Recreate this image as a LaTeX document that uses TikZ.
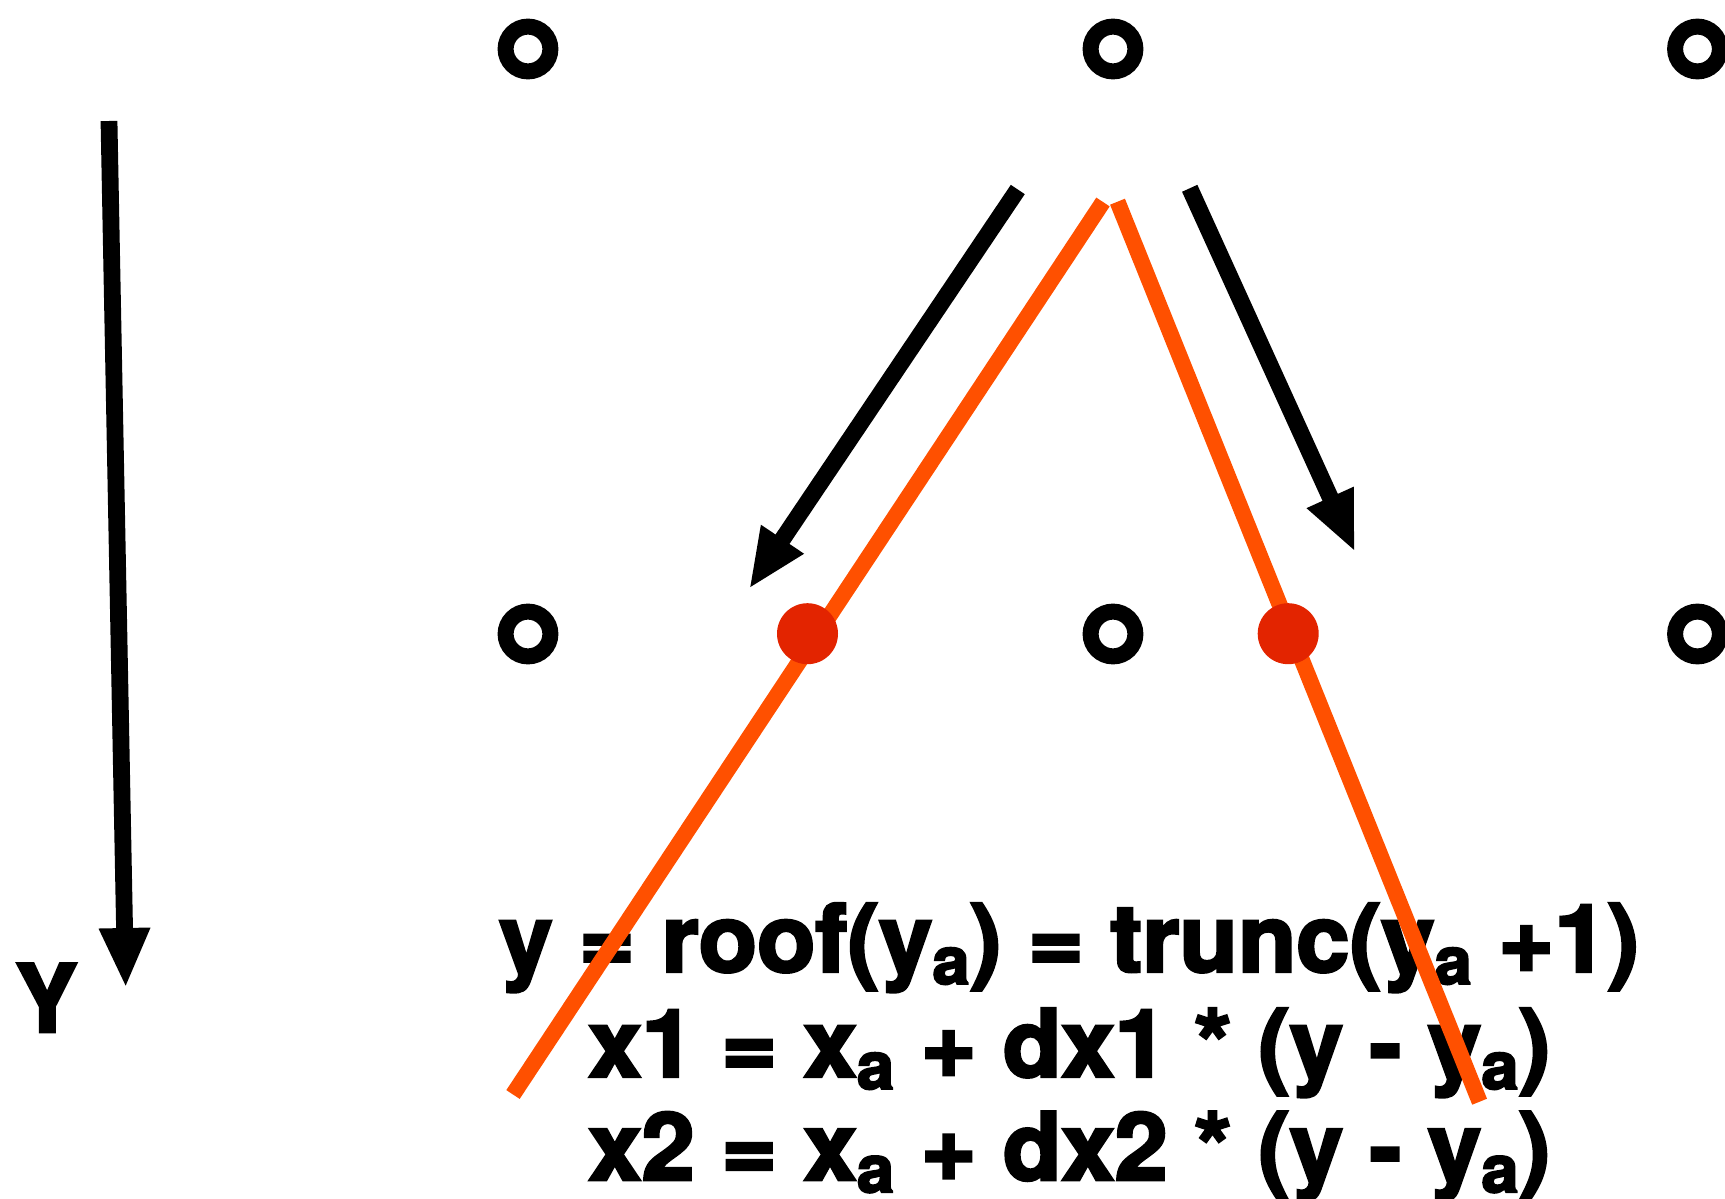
\documentclass[tikz,border=0pt]{standalone}
\usepackage{fontspec}
\setmainfont{TeX Gyre Heros}
\newfontfamily\eqfont{TeX Gyre Heros}[BoldFeatures={FakeBold=3}]
\usetikzlibrary{arrows.meta}
\definecolor{lineorange}{RGB}{255,80,0}
\definecolor{dotred}{RGB}{227,36,0}
\newcommand{\sba}{\raisebox{-0.13em}{\fontsize{33}{33}\selectfont a}}
\newcommand{\eqbox}[1]{\scalebox{1.017}[1]{#1}}
\tikzset{
  ring/.style={circle,draw=black,line width=8pt,minimum size=22.4pt,inner sep=0pt},
  hitdot/.style={circle,fill=dotred,minimum size=30.5pt,inner sep=0pt},
  orangeline/.style={draw=lineorange,line width=8pt},
  blackarrow/.style={draw=black,line width=8.4pt,-{Triangle[length=30pt,width=23.5pt]}},
  eqtext/.style={anchor=base west,inner sep=0pt,font=\eqfont\fontsize{47}{50}\selectfont\bfseries},
}
\begin{document}
\begin{tikzpicture}[x=0.5pt,y=-0.5pt]
\useasboundingbox (0,0) rectangle (1725,1199);
% grid points
\node[ring] (c11) at (528,49) {};
\node[ring] (c12) at (1113,49) {};
\node[ring] (c13) at (1697.5,49) {};
\node[ring] (c21) at (528,634) {};
\node[ring] (c22) at (1113,634) {};
\node[ring] (c23) at (1697.5,634) {};
% Y axis
\coordinate (ytop) at (109,121);
\coordinate (ytip) at (125.7,988);
\draw[blackarrow] (ytop) -- (ytip);
\node[anchor=base,inner sep=0pt,font=\eqfont\fontsize{47}{50}\selectfont\bfseries] (ylab) at (46.3,1032) {Y};
% equations
\node[eqtext] (eq1) at (499,971.7) {\eqbox{y = roof(y\sba) = trunc(y\sba{} +1)}};
\node[eqtext] (eq2) at (588,1076.7) {\eqbox{x1 = x\sba{} + dx1 * (y - y\sba)}};
\node[eqtext] (eq3) at (588,1180) {\eqbox{x2 = x\sba{} + dx2 * (y - y\sba)}};
% direction arrows
\coordinate (la0) at (1017.8,189.5);
\coordinate (la1) at (749,589);
\coordinate (ra0) at (1189.7,188.3);
\coordinate (ra1) at (1355,552);
\draw[blackarrow] (la0) -- (la1);
\draw[blackarrow] (ra0) -- (ra1);
% orange edges
\coordinate (lo0) at (1103,202);
\coordinate (lo1) at (513,1094.5);
\coordinate (ro0) at (1117.5,201.7);
\coordinate (ro1) at (1479.6,1101.7);
\draw[orangeline] (lo0) -- (lo1);
\draw[orangeline] (ro0) -- (ro1);
% intersection dots
\node[hitdot] (d1) at (807.5,633.7) {};
\node[hitdot] (d2) at (1288.2,633.7) {};
\end{tikzpicture}
\end{document}
